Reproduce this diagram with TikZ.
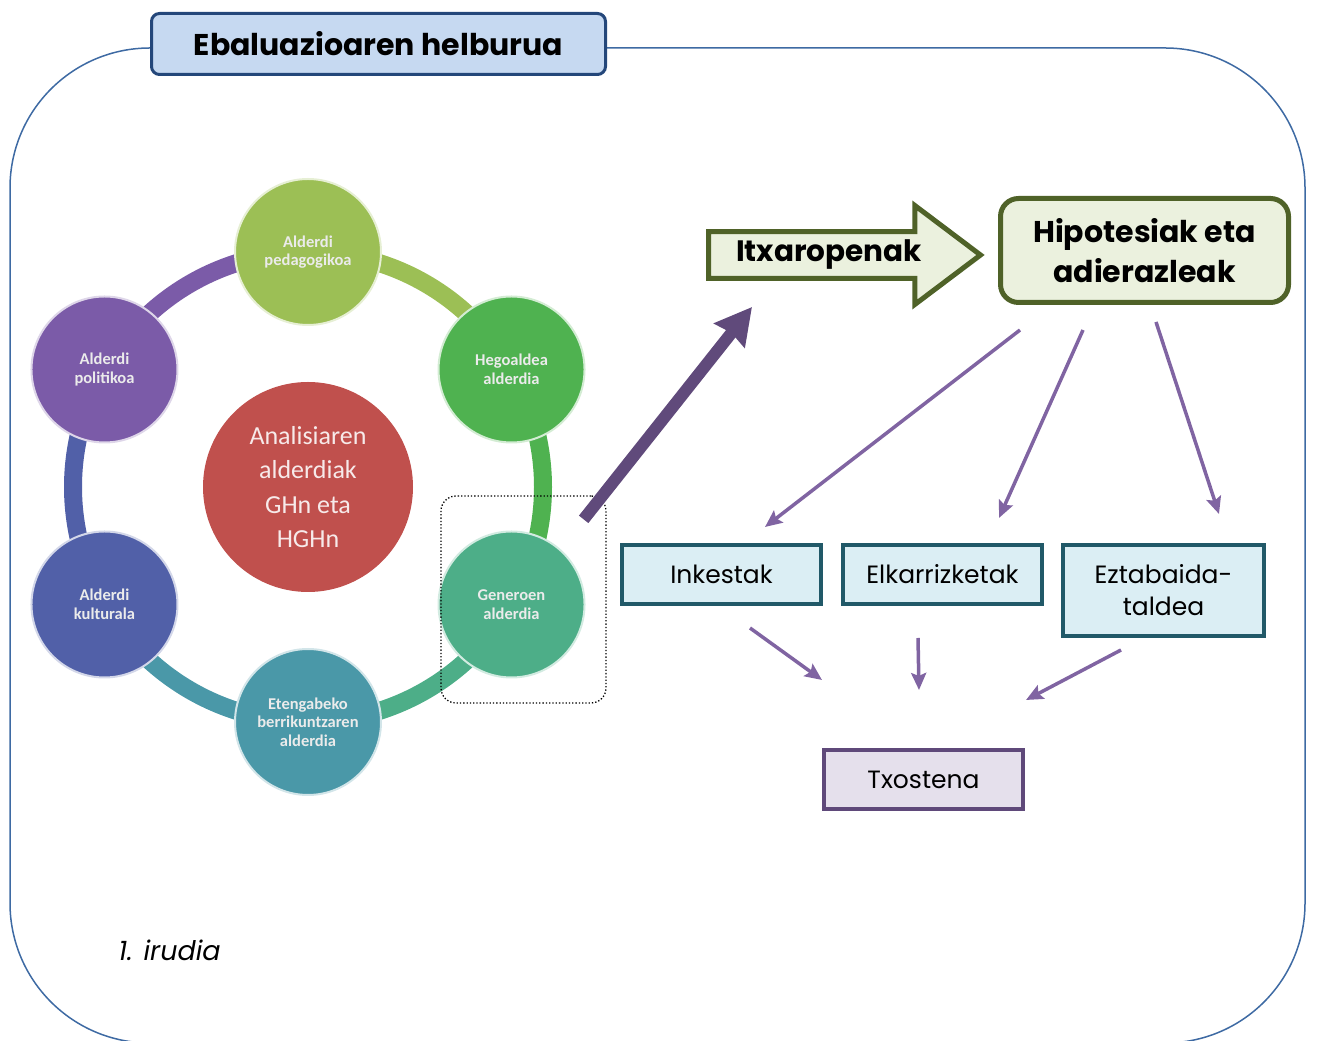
\documentclass[tikz,border=0pt]{standalone}
\usepackage{fontspec}
\setmainfont{Poppins}
\newfontfamily\calfont{Carlito}
\usetikzlibrary{positioning,calc,shapes.arrows,arrows.meta}

\definecolor{frameblue}{HTML}{3E6AA3}
\definecolor{titlefill}{HTML}{C6D9F1}
\definecolor{titledraw}{HTML}{24477A}
\definecolor{olivefill}{HTML}{EBF1DE}
\definecolor{olivedraw}{HTML}{4F6228}
\definecolor{tealfill}{HTML}{DBEEF4}
\definecolor{tealdraw}{HTML}{215968}
\definecolor{lilafill}{HTML}{E5E0EC}
\definecolor{liladraw}{HTML}{5F497A}
\definecolor{thinpurple}{HTML}{8064A2}
\definecolor{bigpurple}{HTML}{604A7B}
\definecolor{cPed}{HTML}{9CBF55}
\definecolor{cHeg}{HTML}{4FB250}
\definecolor{cGen}{HTML}{4DAE88}
\definecolor{cEten}{HTML}{4A98A8}
\definecolor{cKul}{HTML}{5160A8}
\definecolor{cPol}{HTML}{7B5BA8}
\definecolor{cRed}{HTML}{C0504D}

\tikzset{
  outline/.style={draw=frameblue, line width=1.5pt},
  titlebox/.style={draw=titledraw, fill=titlefill, line width=3pt, rounded corners=8pt,
    minimum width=454pt, minimum height=61pt, font=\bfseries\fontsize{30}{33}\selectfont},
  itxarrow/.style={single arrow, draw=olivedraw, fill=olivefill, line width=5pt,
    minimum height=272pt, minimum width=99pt, single arrow head extend=24pt,
    single arrow tip angle=74, inner sep=4pt, font=\bfseries\fontsize{29.5}{33}\selectfont},
  hipobox/.style={draw=olivedraw, fill=olivefill, line width=5pt, rounded corners=18pt,
    minimum width=288pt, minimum height=104pt, align=center,
    font=\bfseries\fontsize{30}{40}\selectfont},
  methodbox/.style={draw=tealdraw, fill=tealfill, line width=4pt, minimum width=199pt,
    minimum height=59pt, align=center, font=\fontsize{25}{32}\selectfont},
  reportbox/.style={draw=liladraw, fill=lilafill, line width=4pt, minimum width=199pt,
    minimum height=59pt, font=\fontsize{25}{28}\selectfont},
  aspect/.style={circle, minimum size=146pt, inner sep=0pt, line width=2pt, align=center,
    text=white!92!black, font=\calfont\bfseries\fontsize{16.5}{18.5}\selectfont},
  ringseg/.style={line width=18pt},
  thinarrow/.style={thinpurple, line width=3.5pt, -{Stealth[length=17pt,width=15pt,inset=3pt]}},
  bigarrow/.style={bigpurple, line width=12pt, -{Stealth[length=36pt,width=38pt,inset=3pt]}}
}

\begin{document}
\begin{tikzpicture}[x=1pt,y=1pt]
  \useasboundingbox (0,0) rectangle (1317,1041);
  % outer frame
  \draw[outline, rounded corners=140pt] (10,993) rectangle (1305,-2);
  \node[titlebox] (title) at (378.5,997) {Ebaluazioaren helburua};

  % cycle of aspects
  \coordinate (ring) at (308,554);
  \foreach \ang/\col in {90/cPed, 30/cHeg, -30/cGen, -90/cEten, -150/cKul, 150/cPol}
    \draw[ringseg, \col] ($(ring)+(\ang:235)$) arc[start angle=\ang, end angle=\ang-60, radius=235pt];
  \foreach \ang/\nm/\col/\txt in {90/ped/cPed/{Alderdi\\pedagogikoa},
      30/heg/cHeg/{Hegoaldea\\alderdia}, -30/gen/cGen/{Generoen\\alderdia},
      -90/eten/cEten/{Etengabeko\\berrikuntzaren\\alderdia},
      -150/kul/cKul/{Alderdi\\kulturala}, 150/pol/cPol/{Alderdi\\politikoa}}
    \node[aspect, fill=\col, draw=white!75!\col] (\nm) at ($(ring)+(\ang:235)$) {\txt};
  \node[circle, fill=cRed, minimum size=210pt, align=center, text=white!88!cRed,
    font=\calfont\fontsize{26}{34.5}\selectfont] (center) at (ring)
    {Analisiaren\\alderdiak\\GHn eta\\HGHn};
  \node[draw, dotted, line width=1.3pt, rounded corners=15pt, minimum width=165pt,
    minimum height=207pt] (genframe) at (523.5,441.5) {};

  % right part
  \node[itxarrow, anchor=tail] (itx) at (706,786) {Itxaropenak};
  \node[hipobox] (hipo) at (1144.5,790.5) {Hipotesiak eta\\adierazleak};
  \node[methodbox] (ink) at (721.5,466.5) {Inkestak};
  \node[methodbox, right=18pt of ink] (elk) {Elkarrizketak};
  \node[methodbox, minimum width=201pt, minimum height=91pt, right=17pt of elk.north east,
    anchor=north west] (ezt) {Eztabaida-\\taldea};
  \node[reportbox] (txo) at (923.5,261.5) {Txostena};

  \draw[bigarrow] ([xshift=-23pt,yshift=-24pt]genframe.north east)
    -- ([xshift=46pt,yshift=-52pt]itx.tail);
  \draw[thinarrow] ([xshift=22pt,yshift=-25pt]hipo.south west) -- ([xshift=43.5pt,yshift=16pt]ink.north);
  \draw[thinarrow] ([xshift=-61.5pt,yshift=-25pt]hipo.south) -- ([xshift=56.5pt,yshift=25pt]elk.north);
  \draw[thinarrow] ([xshift=11.5pt,yshift=-17pt]hipo.south) -- ([xshift=55.5pt,yshift=29pt]ezt.north);
  \draw[thinarrow] ([xshift=28.5pt,yshift=-22pt]ink.south) -- ([xshift=-101.5pt,yshift=68pt]txo.north);
  \draw[thinarrow] ([xshift=-24.5pt,yshift=-32pt]elk.south) -- ([xshift=-4.5pt,yshift=58pt]txo.north);
  \draw[thinarrow] ([xshift=-42.5pt,yshift=-12pt]ezt.south) -- ([xshift=102.5pt,yshift=48pt]txo.north);

  \node[anchor=west, font=\itshape\fontsize{27}{30}\selectfont] (caption) at (115,91) {1. irudia};
\end{tikzpicture}
\end{document}
